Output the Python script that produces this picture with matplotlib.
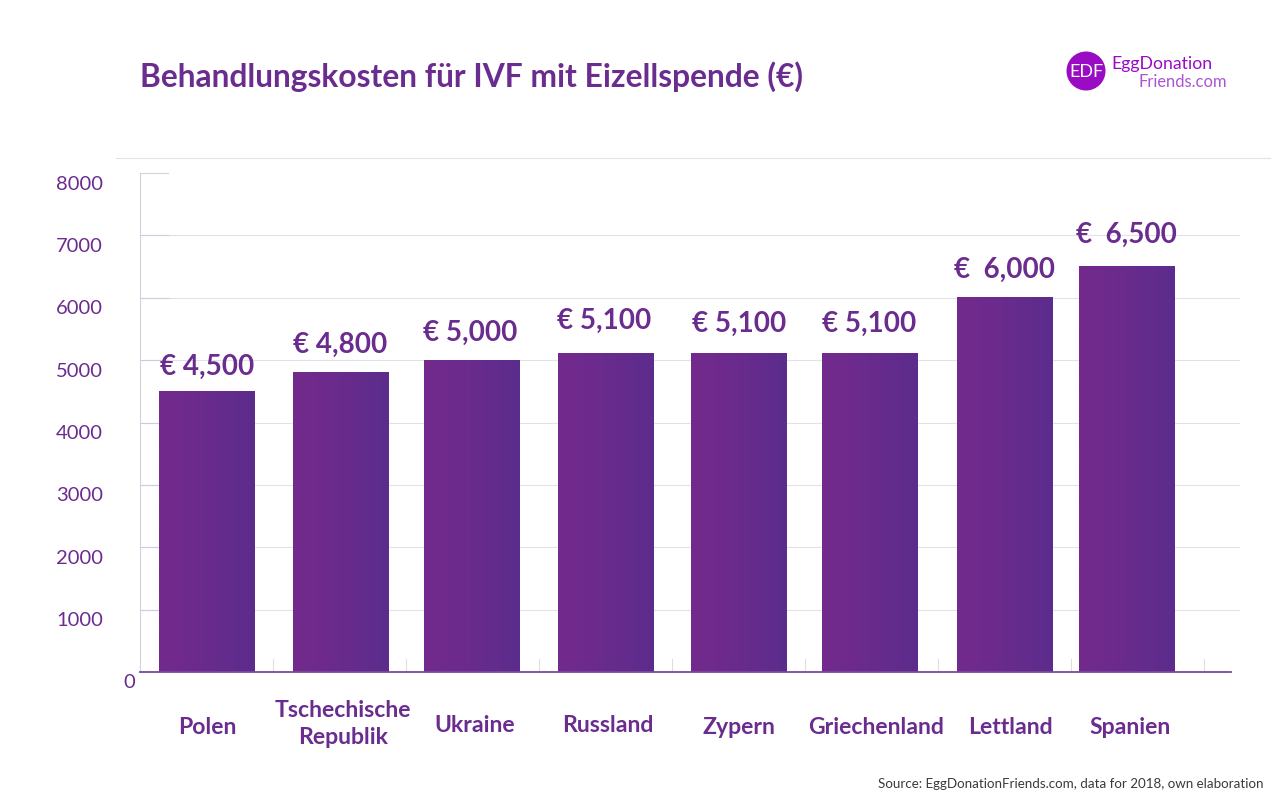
import numpy as np
import matplotlib
matplotlib.use('Agg')
import matplotlib.pyplot as plt
from matplotlib.colors import LinearSegmentedColormap
from matplotlib.patches import Circle

## Chart data
countries = ['Polen', 'Tschechische\nRepublik', 'Ukraine', 'Russland', 'Zypern', 'Griechenland', 'Lettland', 'Spanien']
costs = [4500, 4800, 5000, 5100, 5100, 5100, 6000, 6500]
value_labels = ['€ 4,500', '€ 4,800', '€ 5,000', '€ 5,100', '€ 5,100', '€ 5,100', '€  6,000', '€  6,500']
y_ticks = [0, 1000, 2000, 3000, 4000, 5000, 6000, 7000, 8000]

W, H = 1280, 800
PURPLE = '#6A2C8E'
GRID = '#E3DFEB'

plt.rcParams['font.family'] = ['Lato', 'DejaVu Sans']

fig = plt.figure(figsize=(W / 100, H / 100), dpi=100, facecolor='white')
ax = fig.add_axes([140 / W, 1 - 672 / H, (1231 - 140) / W, (672 - 173) / H])
ax.set_xlim(-0.5, 7.703)
ax.set_ylim(0, 8000)
ax.patch.set_alpha(0)
for side in ['top', 'right', 'bottom']:
    ax.spines[side].set_visible(False)
ax.spines['left'].set_color('#D6D0DE')
ax.spines['left'].set_linewidth(0.8)
ax.set_xticks([])
ax.set_yticks([])

def px(x, y):
    ## pixel position in the reference -> figure fraction
    return x / W, 1 - y / H

## Grid lines run a little past the axis, the top one is only a stub
trans = ax.get_yaxis_transform()
for val in y_ticks[1:-1]:
    ax.plot([0, 1.0073], [val, val], transform=trans, color=GRID, lw=0.8, clip_on=False, zorder=1)
    ax.plot([0, 0.0257], [val, val], transform=trans, color='#D2C9DE', lw=0.8, clip_on=False, zorder=1)
ax.plot([0, 0.0257], [8000, 8000], transform=trans, color='#D6D0DE', lw=0.8, clip_on=False, zorder=1)

## Small separators between the categories
for i in range(8):
    ax.plot([i + 0.5, i + 0.5], [0, 210], color='#E0DBE7', lw=0.8, zorder=1)

## Baseline
ax.plot([-0.5, 7.703], [0, 0], color='#7A4A9A', lw=1.3, clip_on=False, zorder=4)

## Bars sit slightly off the category centres in the original
bar_nudge = [0.0, 0.01, -0.005, 0.0, 0.0, -0.01, 0.0, -0.08]
bar_width = 95.5 / 133
cmap = LinearSegmentedColormap.from_list('bar', ['#722A8D', '#5B2D8C'])
gradient = np.linspace(0, 1, 256).reshape(1, -1) ** 1.3
for i, cost in enumerate(costs):
    xc = i + bar_nudge[i]
    left = xc - bar_width / 2
    right = xc + bar_width / 2
    ax.imshow(gradient, extent=[left, right, 0, cost], cmap=cmap, aspect='auto', zorder=3, vmin=0, vmax=1)
ax.set_xlim(-0.5, 7.703)
ax.set_ylim(0, 8000)

## Value labels
value_xy = [(207, 367), (340, 345), (470, 333), (604, 321), (739, 324), (869, 324), (1004, 270), (1126, 235)]
for (x, y), label in zip(value_xy, value_labels):
    fx, fy = px(x, y)
    fig.text(fx, fy, label, color=PURPLE, fontsize=20, fontweight='bold', ha='center', va='center')

## Category labels
cat_xy = [(207, 727), (343, 724), (475, 725), (608, 725), (739, 728), (876, 728), (1010, 728), (1130, 728)]
for (x, y), label in zip(cat_xy, countries):
    fx, fy = px(x, y)
    fig.text(fx, fy, label, color=PURPLE, fontsize=16.6, fontweight='bold', ha='center', va='center', linespacing=1.3)

## Y tick labels sit under their grid line
for val in y_ticks:
    ypix = 672 - val * (672 - 173) / 8000
    xr = 135 if val == 0 else 103
    fx, fy = px(xr, ypix + 11)
    fig.text(fx, fy, str(val), color=PURPLE, fontsize=14.5, ha='right', va='center')

## Header
fx, fy = px(140, 77)
fig.text(fx, fy, 'Behandlungskosten für IVF mit Eizellspende (€)', color=PURPLE, fontsize=22.85, fontweight='bold', ha='left', va='center')
x0, y0 = px(116, 158)
x1, _ = px(1270, 158)
fig.add_artist(plt.Line2D([x0, x1], [y0, y0], color=GRID, lw=0.8))

## Logo
bg = fig.add_axes([0, 0, 1, 1], zorder=5)
bg.set_xlim(0, W)
bg.set_ylim(H, 0)
bg.axis('off')
bg.add_patch(Circle((1086, 71), 19.5, color='#9A0BC4', lw=0))
bg.text(1086, 72, 'EDF', color='white', fontsize=13, ha='center', va='center')
bg.text(1111, 64, 'EggDonation', color='#9A0BC4', fontsize=12.7, ha='left', va='center')
bg.text(1139, 82, 'Friends.com', color='#AC55D0', fontsize=11.9, ha='left', va='center')

## Source
bg.text(1263, 784, 'Source: EggDonationFriends.com, data for 2018, own elaboration', color='#3A3A3A', fontsize=9.65, ha='right', va='center')

fig.savefig('out.png', dpi=100)
